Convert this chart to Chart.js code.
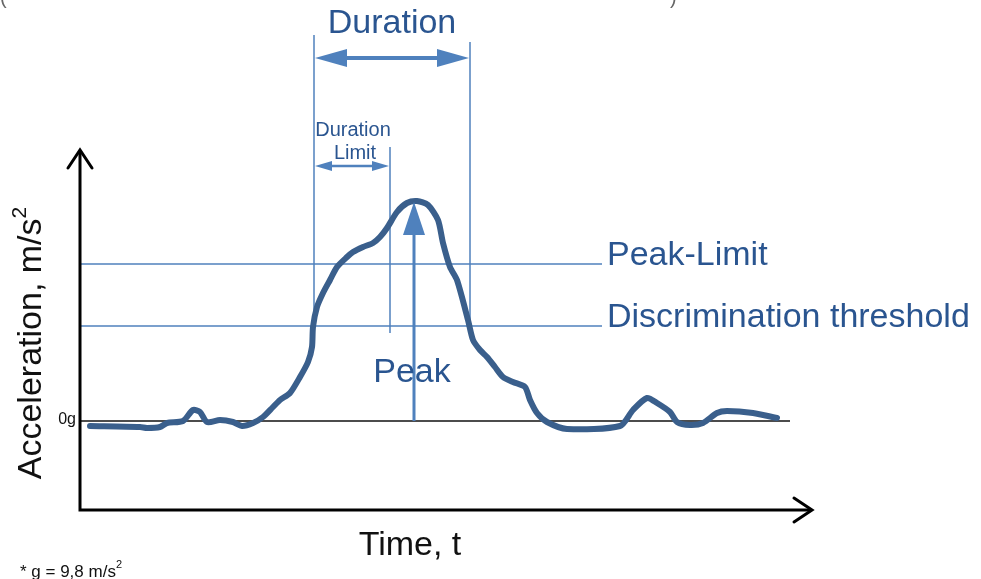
<!DOCTYPE html>
<html>
<head>
<meta charset="utf-8">
<script src="https://cdn.jsdelivr.net/npm/chart.js@4.4.1/dist/chart.umd.min.js"></script>
<style>
  html, body { margin: 0; padding: 0; background: #ffffff; }
  #wrap { width: 981px; height: 579px; position: relative; }
</style>
</head>
<body>
<div id="wrap"><canvas id="c" width="981" height="579"></canvas></div>
<script>
// ---- Data (time in arbitrary units, acceleration in arbitrary units above 0g) ----
const timeValues = [1.0, 6.0, 6.7, 8.0, 8.7, 10.3, 11.3, 12.0, 12.7, 14.0, 15.3, 16.2, 17.3, 18.3, 19.3, 20.0, 21.0, 22.0, 22.8, 23.2, 23.3, 23.7, 24.3, 25.0, 25.7, 26.7, 27.3, 28.3, 29.3, 30.0, 30.7, 31.7, 32.7, 33.7, 34.8, 35.8, 36.3, 37.0, 37.7, 38.8, 39.3, 40.0, 40.7, 41.5, 42.3, 43.3, 44.5, 45.0, 45.7, 46.7, 48.7, 54.0, 55.3, 56.7, 57.7, 59.0, 59.7, 61.0, 62.3, 63.7, 64.7, 67.3, 69.7];
const accelValues = [-0.5, -0.6, -0.7, -0.6, -0.2, 0.0, 1.1, 0.9, -0.1, 0.1, -0.1, -0.5, -0.2, 0.4, 1.4, 2.1, 2.8, 4.4, 5.9, 7.4, 9.4, 11.4, 12.8, 14.1, 15.4, 16.4, 16.9, 17.4, 17.8, 18.4, 19.3, 20.9, 21.8, 22.0, 21.6, 20.1, 17.8, 15.4, 14.1, 10.1, 8.1, 7.1, 6.4, 5.4, 4.4, 3.9, 3.4, 2.1, 0.8, -0.1, -0.8, -0.5, 1.1, 2.3, 1.8, 0.9, -0.1, -0.4, -0.2, 0.8, 1.0, 0.8, 0.3];

const zeroLevel = 0;
const peakLimit = 15.7;
const discriminationThreshold = 9.5;
const peakValue = 21.8;
const peakTime = 33.4;
const durationStart = 23.4;
const durationEnd = 39.0;
const durationLimitEnd = 31.0;

const labels = {
  duration: "Duration",
  durationLimit: ["Duration", "Limit"],
  peakLimit: "Peak-Limit",
  discrimination: "Discrimination threshold",
  peak: "Peak",
  zero: "0g",
  yTitle: "Acceleration, m/s",
  xTitle: "Time, t",
  note: "* g = 9,8 m/s"
};

const curvePoints = timeValues.map((t, i) => ({ x: t, y: accelValues[i] }));

const LINE_BLUE = '#4f81bd';
const TEXT_BLUE = '#2a5590';
const CURVE_BLUE = '#3a5f8c';
const FONT = '"Liberation Sans", Arial, sans-serif';

function arrowHead(ctx, x, y, dir, len, half) {
  ctx.beginPath();
  if (dir === 'left') { ctx.moveTo(x, y); ctx.lineTo(x + len, y - half); ctx.lineTo(x + len, y + half); }
  if (dir === 'right') { ctx.moveTo(x, y); ctx.lineTo(x - len, y - half); ctx.lineTo(x - len, y + half); }
  if (dir === 'up') { ctx.moveTo(x, y); ctx.lineTo(x - half, y + len); ctx.lineTo(x + half, y + len); }
  ctx.closePath();
  ctx.fill();
}

const diagramPlugin = {
  id: 'diagram',
  beforeDatasetsDraw(chart) {
    const ctx = chart.ctx;
    const xs = chart.scales.x, ys = chart.scales.y;
    const X = v => xs.getPixelForValue(v);
    const Y = v => ys.getPixelForValue(v);
    const ca = chart.chartArea;
    ctx.save();
    ctx.strokeStyle = LINE_BLUE;
    ctx.lineWidth = 1.5;
    [peakLimit, discriminationThreshold].forEach(v => {
      ctx.beginPath(); ctx.moveTo(ca.left, Y(v)); ctx.lineTo(X(52.2), Y(v)); ctx.stroke();
    });
    ctx.beginPath(); ctx.moveTo(X(durationStart), Y(38.6)); ctx.lineTo(X(durationStart), Y(9.1)); ctx.stroke();
    ctx.beginPath(); ctx.moveTo(X(durationEnd), Y(37.9)); ctx.lineTo(X(durationEnd), Y(8.4)); ctx.stroke();
    ctx.beginPath(); ctx.moveTo(X(durationLimitEnd), Y(27.4)); ctx.lineTo(X(durationLimitEnd), Y(8.8)); ctx.stroke();
    ctx.strokeStyle = '#111';
    ctx.lineWidth = 1.5;
    ctx.beginPath(); ctx.moveTo(ca.left, Y(zeroLevel)); ctx.lineTo(X(71.0), Y(zeroLevel)); ctx.stroke();
    ctx.restore();
  },
  afterDatasetsDraw(chart) {
    const ctx = chart.ctx;
    const xs = chart.scales.x, ys = chart.scales.y;
    const X = v => xs.getPixelForValue(v);
    const Y = v => ys.getPixelForValue(v);
    const ca = chart.chartArea;
    ctx.save();
    ctx.fillStyle = LINE_BLUE;
    ctx.strokeStyle = LINE_BLUE;
    let y = Y(36.3), x1 = X(durationStart), x2 = X(durationEnd);
    ctx.lineWidth = 4;
    ctx.beginPath(); ctx.moveTo(x1 + 20, y); ctx.lineTo(x2 - 20, y); ctx.stroke();
    arrowHead(ctx, x1 + 1, y, 'left', 32, 9);
    arrowHead(ctx, x2 - 1, y, 'right', 32, 9);
    y = Y(25.5); x2 = X(durationLimitEnd);
    ctx.lineWidth = 2.5;
    ctx.beginPath(); ctx.moveTo(x1 + 10, y); ctx.lineTo(x2 - 10, y); ctx.stroke();
    arrowHead(ctx, x1 + 1, y, 'left', 17, 5);
    arrowHead(ctx, x2 - 1, y, 'right', 17, 5);
    const px = X(peakTime);
    ctx.lineWidth = 3;
    ctx.beginPath(); ctx.moveTo(px, Y(zeroLevel)); ctx.lineTo(px, Y(peakValue) + 25); ctx.stroke();
    arrowHead(ctx, px, Y(peakValue) - 1, 'up', 33, 11);

    // Axes
    ctx.strokeStyle = '#000';
    ctx.lineWidth = 3;
    ctx.lineJoin = 'miter';
    ctx.beginPath(); ctx.moveTo(ca.left, ca.top + 2); ctx.lineTo(ca.left, ca.bottom); ctx.lineTo(ca.right - 1, ca.bottom); ctx.stroke();
    ctx.lineCap = 'round';
    ctx.beginPath(); ctx.moveTo(ca.left - 12, ca.top + 18); ctx.lineTo(ca.left, ca.top); ctx.lineTo(ca.left + 12, ca.top + 18); ctx.stroke();
    ctx.beginPath(); ctx.moveTo(ca.right - 18, ca.bottom - 12); ctx.lineTo(ca.right, ca.bottom); ctx.lineTo(ca.right - 18, ca.bottom + 12); ctx.stroke();

    // Texts
    ctx.fillStyle = TEXT_BLUE;
    ctx.textBaseline = 'middle';
    ctx.font = '34px ' + FONT;
    ctx.textAlign = 'center';
    ctx.fillText(labels.duration, (X(durationStart) + X(durationEnd)) / 2, 24);
    ctx.fillText(labels.peak, 412, 373);
    ctx.textAlign = 'left';
    ctx.fillText(labels.peakLimit, 607, Y(peakLimit) - 8);
    ctx.fillText(labels.discrimination, 607, Y(discriminationThreshold) - 8);
    ctx.font = '20px ' + FONT;
    ctx.textAlign = 'center';
    ctx.fillText(labels.durationLimit[0], 353, 130);
    ctx.fillText(labels.durationLimit[1], 355, 153);

    ctx.fillStyle = '#111';
    ctx.font = '16px ' + FONT;
    ctx.textAlign = 'right';
    ctx.fillText(labels.zero, ca.left - 4, Y(zeroLevel) - 1);

    ctx.font = '34px ' + FONT;
    ctx.textAlign = 'center';
    ctx.fillText(labels.xTitle, 410, 546);

    ctx.save();
    ctx.translate(32, 343);
    ctx.rotate(-Math.PI / 2);
    ctx.font = '34px ' + FONT;
    const w1 = ctx.measureText(labels.yTitle).width;
    ctx.font = '21px ' + FONT;
    const w2 = ctx.measureText('2').width;
    const start = -(w1 + w2) / 2;
    ctx.textAlign = 'left';
    ctx.font = '34px ' + FONT;
    ctx.fillText(labels.yTitle, start, 0);
    ctx.font = '21px ' + FONT;
    ctx.fillText('2', start + w1, -12);
    ctx.restore();

    ctx.textAlign = 'left';
    ctx.textBaseline = 'alphabetic';
    ctx.font = '17px ' + FONT;
    ctx.fillText(labels.note, 20, 577);
    const wn = ctx.measureText(labels.note).width;
    ctx.font = '11px ' + FONT;
    ctx.fillText('2', 20 + wn, 568);

    ctx.fillStyle = '#666';
    ctx.font = '20px ' + FONT;
    ctx.fillText('(', 0, 4);
    ctx.fillText(')', 670, 4);
    ctx.restore();
  }
};

new Chart(document.getElementById('c'), {
  type: 'scatter',
  data: {
    datasets: [{
      data: curvePoints,
      showLine: true,
      borderColor: CURVE_BLUE,
      borderWidth: 6,
      pointRadius: 0,
      tension: 0.25,
      borderCapStyle: 'round',
      borderJoinStyle: 'round',
      fill: false
    }]
  },
  options: {
    responsive: false,
    animation: false,
    devicePixelRatio: 1,
    layout: { padding: { left: 80, right: 169, top: 150, bottom: 69 } },
    plugins: { legend: { display: false }, tooltip: { enabled: false } },
    scales: {
      x: { type: 'linear', min: 0, max: 73.2, display: false },
      y: { type: 'linear', min: -8.9, max: 27.1, display: false }
    }
  },
  plugins: [diagramPlugin]
});
</script>
</body>
</html>
